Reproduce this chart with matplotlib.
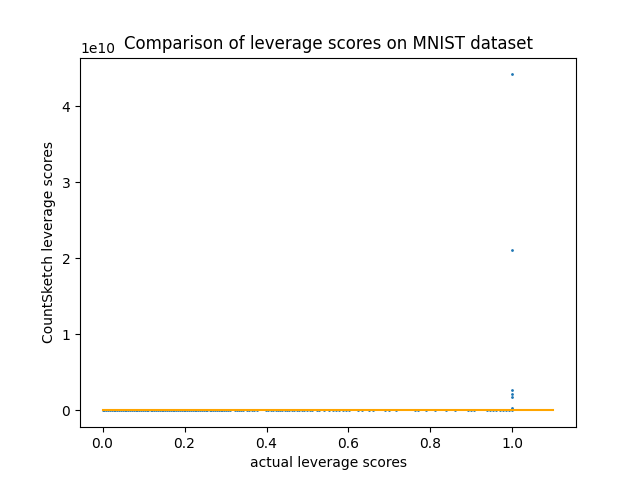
import matplotlib
matplotlib.use("Agg")
import matplotlib.pyplot as plt

# points sitting near zero on the y axis (actual leverage scores)
low_x = [0.000, 0.004, 0.009, 0.013, 0.018, 0.022, 0.027, 0.031, 0.036, 0.040,
         0.045, 0.049, 0.054, 0.058, 0.063, 0.067, 0.072, 0.076, 0.081, 0.085,
         0.090, 0.094, 0.099, 0.103, 0.108, 0.112, 0.117, 0.121, 0.126, 0.130,
         0.135, 0.139, 0.144, 0.148, 0.153, 0.157, 0.162, 0.166, 0.171, 0.175,
         0.180, 0.184, 0.189, 0.193, 0.198, 0.202, 0.207, 0.211, 0.216, 0.220,
         0.225, 0.229, 0.234, 0.238, 0.243, 0.247, 0.252, 0.256, 0.261, 0.265,
         0.270, 0.274, 0.279, 0.283, 0.288, 0.292, 0.297, 0.301, 0.306, 0.311,
         0.322, 0.327, 0.332, 0.337, 0.342, 0.352, 0.357, 0.364, 0.370, 0.376,
         0.398, 0.403, 0.410, 0.416, 0.422, 0.428, 0.433,
         0.438, 0.444, 0.450, 0.456, 0.462, 0.468, 0.474, 0.480, 0.486,
         0.492, 0.498, 0.505, 0.512, 0.522, 0.529, 0.540, 0.553,
         0.563, 0.570, 0.578, 0.586, 0.594, 0.602, 0.624, 0.632, 0.650, 0.659,
         0.690, 0.700, 0.716, 0.762, 0.770, 0.789, 0.810, 0.838, 0.859,
         0.891, 0.900, 0.907, 0.937, 0.945, 0.953, 0.961, 0.969, 0.977,
         0.985, 0.992, 1.000]
low_y = [0.0] * len(low_x)

# large CountSketch estimates at actual leverage 1.0
high_x = [1.0, 1.0, 1.0, 1.0, 1.0, 1.0]
high_y = [4.42e10, 2.11e10, 0.27e10, 0.22e10, 0.17e10, 0.03e10]

line_x = [0.0, 1.1]
line_y = [1.0e8, 1.0e8]

fig, ax = plt.subplots(figsize=(6.4, 4.8), dpi=100)
ax.scatter(low_x + high_x, low_y + high_y, s=1)
ax.plot(line_x, line_y, color="orange")
ax.set_title("Comparison of leverage scores on MNIST dataset")
ax.set_xlabel("actual leverage scores")
ax.set_ylabel("CountSketch leverage scores")
fig.savefig("out.png")
